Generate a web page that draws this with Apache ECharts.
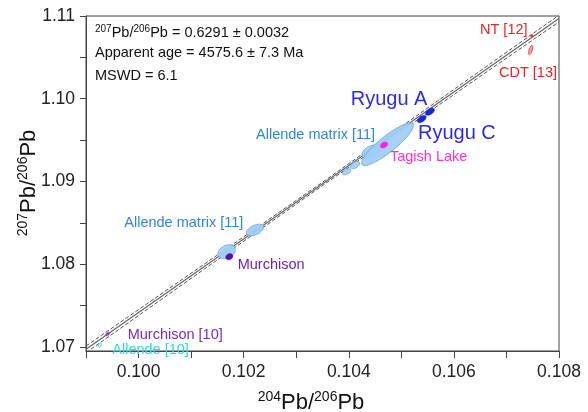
<!DOCTYPE html>
<html><head><meta charset="utf-8">
<script src="https://cdn.jsdelivr.net/npm/echarts@6/dist/echarts.min.js"></script>
<style>html,body{margin:0;padding:0;background:#fff}#c{width:588px;height:412px}</style>
</head><body><div id="c"></div>
<script>
// ---- axis ticks / labels ----
const xTicks = [0.099, 0.100, 0.101, 0.102, 0.103, 0.104, 0.105, 0.106, 0.107, 0.108];
const xLabels = [0.100, 0.102, 0.104, 0.106, 0.108];
const yTicks = [1.070, 1.075, 1.080, 1.085, 1.090, 1.095, 1.100, 1.105, 1.110];
const yLabels = [1.07, 1.08, 1.09, 1.10, 1.11];

// ---- isochron regression line and error envelope ----
const fitLine  = [[0.099, 1.0697], [0.108, 1.1097]];
const envUpper = [[0.099, 1.0701], [0.1035, 1.0899], [0.108, 1.1101]];
const envLower = [[0.099, 1.0693], [0.1035, 1.0895], [0.108, 1.1093]];

// ---- error ellipses: centre, 1-sigma x / y errors, correlation ----
const ellGroup = ['Allende10', 'Murchison10', 'AllendeMatrix', 'AllendeMatrix', 'AllendeMatrix', 'AllendeMatrix', 'AllendeMatrix', 'AllendeMatrix', 'Murchison', 'Tagish', 'Ryugu', 'Ryugu', 'NT', 'CDT'];
const ellX   = [0.099266, 0.099413, 0.101677, 0.102216, 0.103960, 0.104118, 0.104427, 0.104737, 0.101727, 0.104670, 0.105388, 0.105545, 0.107481, 0.107461];
const ellY   = [1.070225, 1.071555, 1.081504, 1.084128, 1.091175, 1.091985, 1.093593, 1.094500, 1.080900, 1.094403, 1.097546, 1.098429, 1.107616, 1.105888];
const ellSx  = [0.000025, 0.000040, 0.000165, 0.000165, 0.000080, 0.000090, 0.000175, 0.000493, 0.000068, 0.000072, 0.000085, 0.000085, 0.000025, 0.000040];
const ellSy  = [0.000290, 0.000220, 0.000850, 0.000700, 0.000380, 0.000440, 0.000820, 0.002575, 0.000380, 0.000360, 0.000440, 0.000440, 0.000160, 0.000560];
const ellRho = [0.30, 0.50, 0.30, 0.50, 0.45, 0.45, 0.40, 0.88, 0.20, 0.35, 0.50, 0.50, 0.0, 0.60];

// ---- sample labels (anchor = left edge / vertical middle, in data units) ----
const labText  = ['NT [12]', 'CDT [13]', 'Ryugu A', 'Ryugu C', 'Allende matrix [11]', 'Tagish Lake', 'Allende matrix [11]', 'Murchison', 'Murchison [10]', 'Allende [10]'];
const labGroup = ['NT', 'CDT', 'RyuguLab', 'RyuguLab', 'AllendeMatrix', 'Tagish', 'AllendeMatrix', 'Murchison', 'Murchison10', 'Allende10'];
const labX = [0.106497, 0.106858, 0.104037, 0.105317, 0.102235, 0.104784, 0.099729, 0.101886, 0.099793, 0.099500];
const labY = [1.108306, 1.103107, 1.099964, 1.095854, 1.095612, 1.092953, 1.084974, 1.079897, 1.071434, 1.069621];

// ---- fit statistics text ----
const statRatio = '0.6291 ± 0.0032';
const statAge = '4575.6 ± 7.3 Ma';
const statMSWD = '6.1';

// ---- styles ----
const FONT = '"Liberation Sans", Arial, sans-serif';
const ellStyle = {
  Allende10:     { fill: '#ffffff', stroke: '#33d6dd', lw: 1 },
  Murchison10:   { fill: '#8a3ad0', stroke: '#8a3ad0', lw: 0.5 },
  AllendeMatrix: { fill: 'rgba(160,205,245,0.92)', stroke: '#5aa6ea', lw: 0.8 },
  Murchison:     { fill: '#5510a5', stroke: '#5510a5', lw: 0.5 },
  Tagish:        { fill: '#ff22dd', stroke: '#ff22dd', lw: 0.5 },
  Ryugu:         { fill: '#1428e0', stroke: '#1428e0', lw: 0.5 },
  NT:            { fill: '#f03030', stroke: '#f03030', lw: 0.5 },
  CDT:           { fill: '#ff9a9a', stroke: '#e83030', lw: 0.8 }
};
const labStyle = {
  NT: { color: '#e82525', size: 14.5 },
  CDT: { color: '#e82525', size: 14.5 },
  RyuguLab: { color: '#2b2bee', size: 20 },
  AllendeMatrix: { color: '#2f86de', size: 14.5 },
  Tagish: { color: '#ff30d0', size: 14.5 },
  Murchison: { color: '#6a22b8', size: 14.5 },
  Murchison10: { color: '#7a2dc0', size: 14.5 },
  Allende10: { color: '#2fdcdc', size: 14.5 }
};

const ellData = ellX.map((x, i) => [x, ellY[i], ellSx[i], ellSy[i], ellRho[i], i]);
const labData = labX.map((x, i) => [x, labY[i], i]);

const chart = echarts.init(document.getElementById('c'), null, { renderer: 'canvas' });

const option = {
  animation: false,
  backgroundColor: '#fff',
  grid: { left: 86, top: 16, right: 29, bottom: 61, show: true, borderColor: '#444', borderWidth: 1, containLabel: false },
  xAxis: {
    type: 'value', min: 0.099, max: 0.108,
    axisLine: { show: true, onZero: false, lineStyle: { color: '#444', width: 1 } },
    axisTick: { show: true, inside: false, length: 7, customValues: xTicks, lineStyle: { color: '#444' } },
    axisLabel: { customValues: xLabels, margin: 12, fontSize: 17.5, fontFamily: FONT, color: '#222', formatter: v => v.toFixed(3) },
    splitLine: { show: false }
  },
  yAxis: {
    type: 'value', min: 1.0695, max: 1.11,
    axisLine: { show: true, onZero: false, lineStyle: { color: '#444', width: 1 } },
    axisTick: { show: true, inside: false, length: 6, customValues: yTicks, lineStyle: { color: '#444' } },
    axisLabel: { customValues: yLabels, margin: 11, fontSize: 17.5, fontFamily: FONT, color: '#222', formatter: v => v.toFixed(2) },
    splitLine: { show: false }
  },
  graphic: [
    { type: 'text', x: 95, y: 32, style: { text: '{s|207}{m|Pb/}{s|206}{m|Pb = ' + statRatio + '}', verticalAlign: 'middle', fill: '#111',
        rich: { s: { fontSize: 10, fontFamily: FONT, verticalAlign: 'top', lineHeight: 16 }, m: { fontSize: 14.5, fontFamily: FONT, verticalAlign: 'bottom', lineHeight: 16 } } } },
    { type: 'text', x: 95, y: 53, style: { text: 'Apparent age = ' + statAge, verticalAlign: 'middle', fill: '#111', fontSize: 14.5, fontFamily: FONT } },
    { type: 'text', x: 95, y: 76, style: { text: 'MSWD = ' + statMSWD, verticalAlign: 'middle', fill: '#111', fontSize: 14.5, fontFamily: FONT } },
    { type: 'text', x: 311, y: 402, style: { text: '{s|204}{m|Pb/}{s|206}{m|Pb}', align: 'center', verticalAlign: 'middle', fill: '#111',
        rich: { s: { fontSize: 14, fontFamily: FONT, verticalAlign: 'top', lineHeight: 24 }, m: { fontSize: 22, fontFamily: FONT, verticalAlign: 'bottom', lineHeight: 24 } } } },
    { type: 'text', x: 28, y: 183, rotation: Math.PI / 2, style: { x: 0, y: 0, text: '{s|207}{m|Pb/}{s|206}{m|Pb}', align: 'center', verticalAlign: 'middle', fill: '#111',
        rich: { s: { fontSize: 14, fontFamily: FONT, verticalAlign: 'top', lineHeight: 24 }, m: { fontSize: 22, fontFamily: FONT, verticalAlign: 'bottom', lineHeight: 24 } } } }
  ],
  series: [
    { type: 'line', data: envUpper, symbol: 'none', silent: true, z: 2, lineStyle: { color: '#555', width: 1, type: [4, 2] } },
    { type: 'line', data: envLower, symbol: 'none', silent: true, z: 2, lineStyle: { color: '#555', width: 1, type: [4, 2] } },
    { type: 'line', data: fitLine, symbol: 'none', silent: true, z: 2, lineStyle: { color: '#666', width: 1.2 } },
    {
      type: 'custom', z: 3, data: ellData, encode: { x: 0, y: 1 },
      renderItem: function (params, api) {
        const cx = api.value(0), cy = api.value(1), sx = api.value(2), sy = api.value(3), r = api.value(4), idx = api.value(5);
        const pts = [];
        const n = 60, q = Math.sqrt(Math.max(0, 1 - r * r));
        for (let k = 0; k < n; k++) {
          const t = 2 * Math.PI * k / n;
          pts.push(api.coord([cx + sx * Math.cos(t), cy + sy * (r * Math.cos(t) + q * Math.sin(t))]));
        }
        const st = ellStyle[ellGroup[idx]];
        const zz = ellGroup[idx] === 'AllendeMatrix' ? 1 : 2;
        return { type: 'polygon', z2: zz, shape: { points: pts }, style: { fill: st.fill, stroke: st.stroke, lineWidth: st.lw } };
      }
    },
    {
      type: 'custom', z: 4, data: labData, encode: { x: 0, y: 1 }, clip: false,
      renderItem: function (params, api) {
        const idx = api.value(2);
        const p = api.coord([api.value(0), api.value(1)]);
        const st = labStyle[labGroup[idx]];
        return { type: 'text', x: p[0], y: p[1], style: { text: labText[idx], fill: st.color, fontSize: st.size, fontFamily: FONT, verticalAlign: 'middle', align: 'left' } };
      }
    }
  ]
};
chart.setOption(option);
</script>
</body></html>
